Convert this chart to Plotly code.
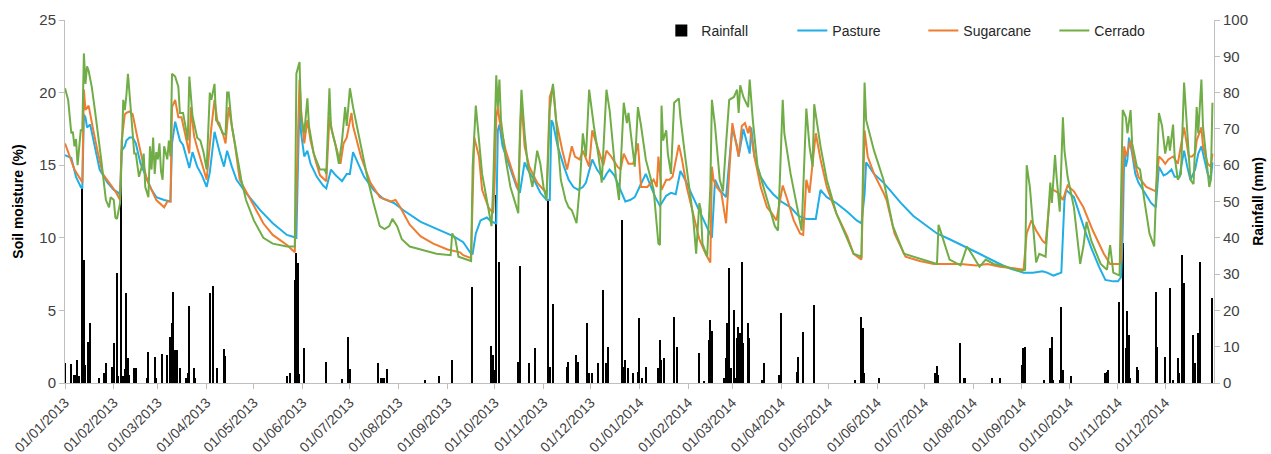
import pandas as pd
import plotly.graph_objects as go

START = pd.Timestamp("2013-01-01")

# ---- data (day index since 01/01/2013, value) ----
pasture_days = [0, 2, 4, 7, 10, 11, 12, 13, 14, 16, 19, 22, 27, 31, 34, 35, 36, 38, 39, 41, 43, 45, 48, 52, 55, 58, 63, 67, 68, 70,
                73, 75, 77, 79, 81, 84, 87, 90, 92, 95, 98, 101, 103, 106, 109, 115, 124, 132, 141, 147, 148, 149, 150, 152, 154, 156, 160, 164, 166, 169,
                172, 176, 179, 181, 183, 185, 190, 196, 202, 209, 215, 226, 236, 247, 253, 258, 259, 261, 264, 268, 271, 274, 275, 276, 278, 283, 287, 289, 292, 294,
                298, 302, 306, 308, 309, 310, 313, 317, 320, 323, 326, 329, 331, 335, 338, 340, 342, 344, 346, 349, 353, 356, 359, 362, 365, 369, 372, 375, 378, 382,
                385, 388, 391, 394, 399, 406, 410, 411, 413, 416, 420, 424, 427, 428, 431, 433, 435, 436, 438, 442, 446, 450, 455, 461, 466, 471, 477, 480, 484, 490,
                497, 503, 506, 508, 509, 514, 520, 524, 531, 539, 545, 554, 562, 571, 581, 592, 600, 609, 615, 621, 624, 628, 633, 635, 636, 641, 644, 648, 652, 657,
                661, 666, 669, 671, 672, 673, 674, 675, 676, 678, 680, 682, 686, 690, 693, 694, 695, 698, 700, 703, 705, 708, 711, 713, 715, 718, 720, 722, 724, 726,
                728, 729]
pasture = [15.7, 15.6, 15.5, 14.2, 13.5, 13.4, 18.5, 18.3, 17.6, 17.8, 16.3, 14.7, 13.8, 13.3, 13.1, 12.9, 16.0, 16.3, 16.7, 16.9, 16.9, 16.5, 15.1, 14.0, 13.3, 12.8, 12.6, 12.5, 16.5, 18.0,
           16.7, 16.4, 15.5, 14.8, 15.9, 14.9, 14.3, 13.5, 14.5, 17.3, 16.0, 14.9, 16.0, 14.9, 14.0, 13.1, 11.9, 11.0, 10.2, 10.0, 14.9, 19.5, 17.2, 15.6, 16.0, 15.1, 14.2, 13.6, 13.4, 14.7,
           14.3, 13.9, 14.4, 14.4, 15.9, 15.4, 14.2, 13.3, 12.7, 12.4, 11.9, 11.1, 10.6, 10.1, 9.7, 8.9, 8.9, 10.3, 11.2, 11.4, 11.1, 11.0, 17.4, 17.8, 16.3, 14.7, 13.5, 13.1, 15.2, 14.7,
           14.0, 13.1, 12.6, 12.6, 18.1, 17.9, 16.3, 14.9, 14.0, 13.5, 13.3, 13.5, 13.8, 15.4, 14.7, 14.4, 14.0, 14.4, 14.7, 14.3, 13.3, 12.5, 12.6, 12.8, 13.5, 14.4, 13.6, 12.8, 12.2, 12.9,
           13.1, 13.0, 14.6, 14.0, 12.8, 11.2, 10.3, 10.0, 14.0, 13.3, 12.8, 17.6, 16.3, 15.6, 17.5, 16.7, 15.8, 17.6, 15.6, 14.2, 13.5, 13.0, 12.5, 12.1, 11.5, 11.3, 11.3, 13.3, 12.8, 12.4,
           11.8, 11.2, 11.0, 13.0, 15.2, 14.4, 13.8, 13.3, 12.4, 11.5, 11.0, 10.3, 9.9, 9.4, 8.9, 8.3, 7.9, 7.6, 7.6, 7.7, 7.6, 7.4, 7.6, 12.6, 13.3, 12.8, 11.8, 10.5, 9.3, 8.0,
           7.1, 7.0, 7.0, 7.3, 10.3, 16.0, 14.9, 15.4, 16.9, 15.8, 14.4, 13.8, 13.1, 12.4, 12.1, 13.5, 14.9, 14.3, 14.4, 14.7, 14.2, 14.2, 16.0, 14.9, 14.0, 14.7, 15.8, 16.3, 15.4, 14.4,
           14.0, 15.2]

sugarcane_days = [0, 3, 6, 10, 11, 12, 13, 15, 16, 18, 21, 24, 28, 32, 35, 36, 38, 39, 41, 43, 46, 49, 52, 55, 58, 63, 65, 67, 68, 70,
                  72, 74, 77, 79, 80, 82, 84, 87, 90, 93, 95, 97, 100, 102, 104, 106, 108, 111, 115, 120, 126, 132, 141, 146, 147, 149, 150, 152, 154, 156,
                  159, 162, 166, 168, 170, 173, 175, 177, 179, 182, 183, 188, 194, 200, 207, 210, 213, 219, 226, 234, 243, 251, 253, 258, 259, 260, 263, 265, 269, 272,
                  273, 274, 275, 276, 280, 284, 288, 290, 292, 295, 300, 304, 306, 308, 310, 312, 316, 319, 322, 324, 327, 329, 333, 335, 338, 342, 344, 347, 351, 353,
                  355, 358, 361, 364, 366, 370, 374, 376, 377, 379, 382, 384, 386, 390, 392, 395, 399, 403, 407, 410, 411, 412, 414, 417, 420, 424, 426, 428, 430, 432,
                  434, 435, 438, 442, 446, 449, 452, 456, 459, 463, 467, 469, 471, 473, 477, 480, 484, 490, 497, 501, 506, 508, 510, 514, 520, 522, 527, 534, 543, 552,
                  569, 579, 586, 594, 603, 609, 611, 614, 617, 621, 623, 626, 628, 631, 634, 637, 641, 647, 653, 660, 664, 670, 671, 672, 673, 674, 676, 677, 679, 682,
                  687, 693, 695, 697, 699, 701, 704, 707, 711, 714, 716, 718, 719, 722, 723, 726, 728, 729]
sugarcane = [16.5, 15.6, 14.7, 14.0, 13.8, 20.2, 18.8, 19.1, 18.6, 17.4, 15.8, 14.4, 13.8, 13.2, 12.6, 16.7, 18.5, 18.6, 18.7, 18.5, 16.9, 15.4, 14.0, 13.3, 12.6, 12.1, 12.5, 12.5, 19.0, 19.5,
             18.3, 18.3, 16.7, 15.8, 19.0, 17.0, 16.2, 15.1, 14.0, 17.6, 19.5, 17.9, 17.3, 16.5, 19.0, 17.7, 16.4, 14.0, 13.2, 12.3, 11.0, 10.2, 9.5, 9.0, 12.6, 20.9, 18.8, 16.5, 18.1, 16.7,
             15.4, 14.3, 13.9, 18.3, 17.2, 16.0, 15.1, 16.5, 16.9, 18.6, 17.7, 15.6, 13.8, 12.8, 12.5, 12.6, 12.1, 10.9, 10.1, 9.6, 9.2, 9.0, 8.8, 8.6, 12.0, 16.9, 15.6, 13.3, 12.1, 11.7,
             14.0, 18.3, 19.0, 18.1, 16.0, 14.7, 13.3, 19.5, 16.3, 14.9, 13.8, 13.3, 13.1, 19.7, 20.4, 18.1, 16.0, 14.7, 16.3, 15.6, 15.4, 16.0, 14.9, 17.4, 16.3, 15.0, 16.0, 15.6, 14.9, 14.7,
             15.8, 15.1, 15.1, 16.5, 13.5, 13.5, 14.0, 13.5, 15.6, 13.3, 14.0, 14.0, 14.2, 16.4, 15.4, 13.5, 11.7, 9.9, 8.9, 8.3, 14.9, 14.0, 13.5, 13.1, 11.0, 17.9, 16.7, 15.6, 17.7, 17.9,
             17.2, 17.7, 15.6, 13.5, 12.1, 11.7, 11.2, 13.6, 12.6, 11.2, 10.3, 10.2, 14.0, 13.1, 17.2, 15.4, 13.5, 11.7, 10.1, 8.9, 8.5, 17.4, 15.6, 14.4, 13.1, 12.6, 10.3, 8.7, 8.4, 8.2,
             8.2, 8.1, 8.2, 8.0, 7.9, 7.8, 10.3, 11.2, 10.5, 9.8, 9.6, 13.1, 13.3, 13.1, 12.6, 13.6, 13.2, 12.1, 10.5, 8.9, 8.2, 8.2, 8.4, 14.4, 16.3, 15.6, 16.3, 16.7, 15.4, 14.2,
             13.5, 13.2, 15.6, 15.4, 15.1, 15.4, 15.6, 15.1, 17.6, 15.6, 15.6, 15.8, 16.7, 17.6, 16.3, 15.1, 14.9, 15.8]

cerrado_days = [0, 2, 4, 5, 6, 7, 8, 10, 11, 12, 13, 14, 15, 17, 19, 21, 23, 25, 26, 28, 29, 31, 32, 33, 35, 36, 37, 38, 39, 40,
                41, 42, 43, 44, 45, 47, 49, 50, 51, 53, 54, 55, 56, 57, 58, 59, 60, 61, 62, 63, 65, 66, 67, 68, 70, 72, 73, 75, 77, 78,
                79, 81, 83, 84, 86, 88, 90, 91, 92, 93, 95, 96, 98, 100, 102, 103, 104, 106, 109, 112, 115, 120, 126, 132, 141, 146, 147, 149, 150, 152,
                154, 155, 158, 162, 165, 166, 168, 169, 172, 174, 176, 178, 179, 181, 183, 188, 192, 196, 200, 203, 206, 208, 211, 214, 219, 226, 236, 245, 246, 248,
                250, 258, 259, 261, 263, 265, 268, 270, 271, 272, 274, 275, 276, 277, 280, 283, 286, 288, 289, 290, 292, 294, 297, 300, 302, 304, 306, 308, 310, 311,
                313, 315, 318, 320, 322, 324, 325, 327, 329, 331, 333, 336, 339, 341, 343, 344, 346, 348, 350, 352, 355, 357, 358, 360, 362, 364, 366, 369, 374, 377,
                378, 379, 380, 382, 383, 385, 387, 390, 391, 394, 397, 399, 401, 403, 404, 405, 408, 410, 411, 413, 416, 418, 420, 422, 425, 427, 428, 429, 431, 432,
                434, 435, 437, 440, 446, 451, 453, 456, 457, 461, 465, 468, 471, 473, 475, 476, 480, 484, 490, 497, 501, 506, 508, 509, 514, 520, 526, 533, 539, 548,
                554, 555, 558, 562, 569, 573, 576, 581, 585, 590, 598, 607, 610, 611, 613, 615, 617, 619, 623, 625, 626, 627, 629, 630, 632, 634, 635, 637, 641, 645,
                647, 649, 652, 658, 662, 664, 666, 670, 671, 672, 674, 675, 677, 678, 681, 683, 686, 689, 692, 693, 695, 697, 699, 701, 702, 704, 705, 707, 709, 711,
                713, 715, 717, 719, 720, 722, 723, 725, 727, 728, 729]
cerrado = [20.3, 19.5, 17.2, 17.3, 16.3, 16.8, 15.0, 17.4, 17.4, 22.7, 20.6, 21.8, 21.5, 20.4, 18.8, 17.2, 15.4, 13.5, 12.6, 12.1, 12.8, 12.6, 11.4, 11.3, 12.4, 15.6, 19.5, 18.8, 19.8, 21.3,
           19.8, 18.8, 17.3, 15.8, 15.8, 14.2, 15.0, 15.8, 13.5, 12.8, 16.3, 14.7, 16.9, 14.4, 15.9, 15.4, 16.5, 14.6, 14.0, 16.3, 15.4, 16.7, 15.6, 21.3, 21.1, 20.4, 18.6, 18.6, 17.4, 16.7,
           21.1, 18.4, 17.4, 16.9, 16.7, 15.9, 14.7, 17.0, 20.0, 19.5, 20.6, 18.1, 17.9, 17.2, 17.1, 20.0, 20.0, 17.7, 15.8, 14.0, 12.6, 11.2, 10.0, 9.6, 9.4, 9.4, 21.3, 22.1, 18.3, 17.2,
           19.6, 17.7, 15.8, 14.7, 14.7, 14.4, 20.3, 17.6, 16.3, 15.1, 16.7, 19.0, 17.7, 20.3, 19.0, 16.3, 14.2, 12.4, 10.8, 10.6, 10.8, 11.3, 10.8, 9.9, 9.4, 9.2, 8.9, 8.8, 10.3, 9.9,
           8.7, 8.4, 14.9, 19.1, 16.7, 14.4, 12.6, 11.2, 10.8, 13.5, 21.2, 19.0, 20.9, 18.1, 15.4, 13.5, 12.4, 11.7, 17.2, 20.2, 17.2, 15.0, 13.5, 16.0, 15.1, 13.5, 12.6, 18.8, 20.6, 19.5,
           16.7, 14.0, 12.6, 12.1, 11.9, 11.2, 11.0, 13.5, 17.2, 15.6, 20.2, 17.7, 15.6, 13.8, 18.8, 20.2, 18.8, 16.5, 14.2, 12.6, 19.3, 17.9, 18.6, 16.7, 14.9, 19.0, 17.7, 15.4, 13.3, 9.6,
           9.5, 19.1, 16.7, 17.4, 15.8, 14.4, 19.3, 19.6, 18.3, 15.6, 13.3, 11.5, 8.9, 12.4, 11.9, 9.6, 8.7, 13.5, 19.5, 17.7, 14.0, 13.2, 16.5, 19.5, 19.7, 20.2, 18.6, 20.5, 19.7, 19.5,
           19.0, 20.9, 18.1, 14.9, 12.6, 10.8, 10.5, 19.5, 17.2, 14.4, 12.2, 10.5, 18.9, 16.3, 14.9, 19.2, 16.3, 14.0, 11.7, 9.9, 8.9, 8.7, 20.7, 18.1, 16.0, 14.0, 10.8, 8.9, 8.7, 8.4,
           8.2, 10.9, 9.9, 8.5, 8.1, 9.4, 8.9, 8.0, 8.5, 8.2, 8.0, 7.7, 7.8, 15.0, 13.5, 10.8, 8.3, 8.9, 8.7, 12.1, 13.8, 12.4, 15.7, 14.2, 11.8, 18.3, 16.0, 14.2, 12.1, 8.2,
           9.4, 11.1, 9.8, 8.2, 7.8, 9.5, 7.6, 7.4, 12.6, 18.8, 18.3, 17.2, 18.8, 16.5, 14.9, 14.7, 12.4, 10.3, 9.4, 12.6, 18.6, 17.7, 15.8, 17.0, 16.0, 17.8, 15.6, 14.0, 14.4, 20.7,
           17.2, 14.0, 13.7, 19.0, 17.2, 20.9, 17.7, 15.6, 13.5, 14.0, 19.3]

rain_days = [0, 4, 6, 7, 8, 9, 11, 12, 13, 15, 16, 22, 25, 26, 30, 31, 33, 34, 36, 37, 38, 39, 40, 41, 44, 45, 52, 53, 57, 58,
             62, 65, 67, 68, 69, 70, 71, 73, 77, 78, 79, 82, 83, 92, 94, 97, 101, 102, 141, 143, 146, 147, 148, 149, 152, 166, 176, 180, 181, 199,
             201, 202, 203, 205, 229, 238, 246, 259, 271, 272, 273, 274, 276, 288, 289, 295, 299, 307, 308, 310, 319, 320, 325, 326, 332, 333, 335, 339, 342, 344,
             345, 354, 355, 356, 358, 361, 364, 365, 367, 369, 377, 378, 379, 381, 387, 389, 403, 406, 409, 410, 411, 419, 420, 421, 422, 423, 425, 426, 427, 428,
             429, 430, 431, 434, 435, 443, 444, 454, 455, 465, 466, 469, 476, 502, 506, 507, 508, 517, 553, 554, 555, 569, 571, 572, 589, 594, 608, 609, 610, 622,
             626, 627, 628, 632, 633, 634, 639, 661, 662, 663, 670, 672, 674, 675, 676, 677, 681, 682, 693, 694, 699, 702, 704, 707, 708, 710, 711, 717, 718, 720,
             721, 729]
rainfall = [5.5, 5.3, 2.2, 2.2, 6.4, 2.0, 54.0, 34.0, 5.0, 11.3, 16.5, 1.3, 2.7, 5.5, 4.4, 10.9, 30.2, 2.0, 56.4, 1.8, 3.9, 24.7, 6.8, 2.3, 4.0, 4.0, 1.3, 8.6, 7.3, 1.3,
            8.0, 7.6, 12.8, 16.5, 25.2, 9.0, 9.0, 4.0, 1.3, 2.7, 21.1, 4.0, 1.3, 24.7, 26.6, 4.0, 9.5, 7.5, 2.0, 2.8, 28.4, 35.7, 33.0, 2.5, 9.6, 5.9, 1.0, 12.8, 3.9, 5.5,
            1.3, 1.3, 1.3, 3.8, 0.8, 2.0, 6.3, 26.5, 10.1, 7.7, 3.6, 51.8, 33.4, 5.9, 32.1, 5.4, 9.6, 50.4, 4.5, 21.8, 4.5, 5.9, 7.7, 5.9, 16.5, 2.7, 2.7, 5.4, 25.5, 5.4,
            10.0, 44.9, 4.5, 6.4, 4.1, 2.7, 3.1, 17.8, 1.3, 4.5, 4.1, 11.9, 6.4, 6.8, 18.3, 10.0, 8.3, 0.4, 11.9, 17.4, 14.2, 1.3, 6.8, 16.5, 31.6, 4.1, 20.1, 1.3, 12.3, 15.5,
            13.7, 33.4, 11.0, 16.5, 12.3, 0.8, 5.4, 2.2, 19.2, 3.1, 7.3, 14.1, 21.5, 0.7, 18.3, 15.1, 2.7, 1.3, 2.7, 4.7, 2.2, 10.9, 1.3, 1.3, 1.3, 1.3, 5.0, 9.6, 10.0, 0.8,
            9.6, 12.8, 0.8, 0.8, 21.0, 3.6, 1.8, 2.7, 3.1, 3.6, 22.4, 38.5, 9.6, 19.7, 13.2, 1.3, 4.5, 3.6, 25.2, 10.0, 7.3, 26.1, 0.8, 6.8, 2.7, 35.3, 27.5, 13.2, 5.4, 13.7,
            33.4, 23.3]

month_ticks = pd.date_range("2013-01-01", "2014-12-01", freq="MS")


def to_dates(days):
    return [START + pd.Timedelta(days=d) for d in days]


FONT = "Liberation Sans, Arial, sans-serif"
AXIS_GREY = "#BFBFBF"
TICK_TXT = "#404040"

fig = go.Figure()
fig.add_trace(go.Bar(
    x=to_dates(rain_days), y=rainfall, name="Rainfall",
    marker=dict(color="#000000", line=dict(width=0)),
    width=86400000 * 0.9, yaxis="y",
))
fig.add_trace(go.Scatter(x=to_dates(pasture_days), y=pasture, name="Pasture", mode="lines",
                         line=dict(color="#1FAEE5", width=2), yaxis="y2"))
fig.add_trace(go.Scatter(x=to_dates(sugarcane_days), y=sugarcane, name="Sugarcane", mode="lines",
                         line=dict(color="#ED7D31", width=2), yaxis="y2"))
fig.add_trace(go.Scatter(x=to_dates(cerrado_days), y=cerrado, name="Cerrado", mode="lines",
                         line=dict(color="#70AD47", width=2), yaxis="y2"))

fig.update_layout(
    width=1271, height=454,
    margin=dict(l=65, r=57, t=20, b=71),
    paper_bgcolor="white", plot_bgcolor="white",
    font=dict(family=FONT, color=TICK_TXT),
    bargap=0,
    showlegend=True,
    legend=dict(orientation="h", x=0.519, xanchor="left", y=1.014, yanchor="top",
                font=dict(size=14, color="#262626"), bgcolor="rgba(0,0,0,0)",
                entrywidth=86, entrywidthmode="pixels", traceorder="normal"),
    xaxis=dict(
        type="date", range=["2013-01-01", "2015-01-01"],
        tickvals=list(month_ticks), tickformat="%d/%m/%Y", tickangle=-45,
        tickfont=dict(size=14, color=TICK_TXT),
        showline=True, linecolor=AXIS_GREY, linewidth=1,
        ticks="outside", ticklen=5, tickcolor=AXIS_GREY,
        showgrid=False, zeroline=False, automargin=False,
    ),
    yaxis=dict(
        side="right", range=[0, 100], dtick=10,
        tickfont=dict(size=15, color=TICK_TXT),
        title=dict(text="<b>Rainfall (mm)</b>", font=dict(size=14, color="#000000"), standoff=6),
        showline=True, linecolor=AXIS_GREY, linewidth=1,
        ticks="outside", ticklen=5, tickcolor=AXIS_GREY,
        showgrid=False, zeroline=False, automargin=False,
    ),
    yaxis2=dict(
        overlaying="y", side="left", range=[0, 25], dtick=5,
        tickfont=dict(size=15, color=TICK_TXT),
        title=dict(text="<b>Soil moisture (%)</b>", font=dict(size=14, color="#000000"), standoff=12),
        showline=True, linecolor=AXIS_GREY, linewidth=1,
        ticks="outside", ticklen=5, tickcolor=AXIS_GREY,
        showgrid=False, zeroline=False, automargin=False,
    ),
)

# remove the browser's default 8px page margin so the figure fills the window exactly
fig.write_html("out.html", config={"displayModeBar": False},
               post_script="document.body.style.margin='0';")
